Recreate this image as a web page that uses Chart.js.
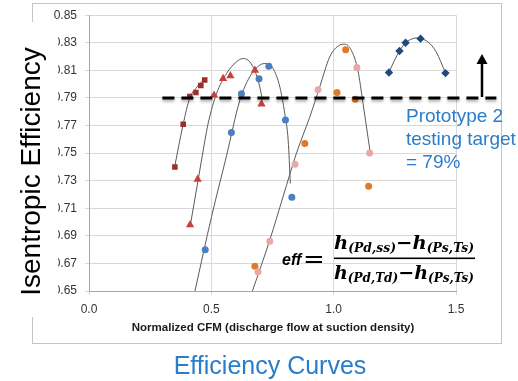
<!DOCTYPE html>
<html>
<head>
<meta charset="utf-8">
<script src="https://cdn.jsdelivr.net/npm/chart.js@4"></script>
<style>
  body { margin: 0; background: #fff; }
</style>
</head>
<body>
<canvas id="effChart" width="518" height="381"></canvas>
<script>
// tick values
var xTicks = [0, 0.5, 1.0, 1.5];
var yTicks = [0.65, 0.67, 0.69, 0.71, 0.73, 0.75, 0.77, 0.79, 0.81, 0.83, 0.85];

// measured points
var squareX = [0.351, 0.385, 0.412, 0.437, 0.457, 0.473];
var squareY = [0.740, 0.771, 0.791, 0.794, 0.799, 0.803];
var triangleX = [0.413, 0.444, 0.511, 0.548, 0.578, 0.678, 0.705];
var triangleY = [0.698, 0.731, 0.792, 0.804, 0.806, 0.810, 0.7855];
var blueX = [0.475, 0.582, 0.623, 0.695, 0.735, 0.803, 0.829];
var blueY = [0.680, 0.765, 0.793, 0.804, 0.813, 0.774, 0.718];
var orangeX = [0.678, 0.882, 1.014, 1.049, 1.088, 1.143];
var orangeY = [0.668, 0.757, 0.794, 0.825, 0.789, 0.726];
var pinkX = [0.691, 0.739, 0.842, 0.936, 1.095, 1.147];
var pinkY = [0.664, 0.686, 0.742, 0.796, 0.812, 0.750];
var navyX = [1.226, 1.269, 1.294, 1.355, 1.457];
var navyY = [0.8085, 0.824, 0.830, 0.833, 0.808];

// trendlines
var squareFitX = [0.350, 0.385, 0.412, 0.437, 0.473];
var squareFitY = [0.740, 0.771, 0.790, 0.797, 0.804];
var triangleFitX = [0.415, 0.446, 0.460, 0.487, 0.521, 0.562, 0.603, 0.630, 0.657, 0.682, 0.698, 0.709];
var triangleFitY = [0.6986, 0.7304, 0.745, 0.7715, 0.793, 0.8077, 0.8162, 0.8186, 0.8162, 0.8077, 0.798, 0.7884];
var blueFitX = [0.433, 0.501, 0.562, 0.616, 0.657, 0.698, 0.725, 0.752, 0.780, 0.800, 0.814, 0.823];
var blueFitY = [0.650, 0.704, 0.748, 0.788, 0.8053, 0.8138, 0.815, 0.8114, 0.798, 0.7788, 0.7594, 0.728];
var pinkFitX = [0.668, 0.739, 0.793, 0.848, 0.902, 0.943, 0.984, 1.024, 1.045, 1.072, 1.099, 1.120, 1.140, 1.150];
var pinkFitY = [0.650, 0.687, 0.7183, 0.750, 0.776, 0.798, 0.8198, 0.8283, 0.829, 0.8246, 0.810, 0.786, 0.7618, 0.750];
var navyFitX = [1.226, 1.249, 1.269, 1.294, 1.320, 1.340, 1.360, 1.385, 1.419, 1.457];
var navyFitY = [0.8085, 0.8174, 0.824, 0.830, 0.8328, 0.8335, 0.8328, 0.8307, 0.8234, 0.8082];

var target = 0.79;
var targetFrom = 0.3, targetTo = 1.665;

function pts(xs, ys) {
    return xs.map(function (x, i) { return { x: x, y: ys[i] }; });
}

function markers(xs, ys, color, style, r) {
    return {
        data: pts(xs, ys),
        pointStyle: style,
        pointRadius: r,
        backgroundColor: color,
        borderColor: color,
        borderWidth: 0,
        showLine: false,
        order: 1
    };
}

function fit(xs, ys) {
    return {
        data: pts(xs, ys),
        showLine: true,
        pointRadius: 0,
        borderColor: '#5a5a5a',
        borderWidth: 1,
        cubicInterpolationMode: 'monotone',
        order: 2
    };
}

var BLUE_TEXT = '#2a7dc9';
var SANS = '"Liberation Sans", Arial, sans-serif';
var SERIF = '"DejaVu Serif", "Liberation Serif", serif';

function drawMath(ctx, segs, x, base, width) {
    var total = 0;
    segs.forEach(function (s) { ctx.font = s.f; total += ctx.measureText(s.t).width; });
    ctx.save();
    ctx.translate(x, base);
    ctx.scale(width / total, 1);
    var cx = 0;
    segs.forEach(function (s) {
        ctx.font = s.f;
        ctx.fillText(s.t, cx, s.dy || 0);
        cx += ctx.measureText(s.t).width;
    });
    ctx.restore();
}

var decor = {
    id: 'decor',
    beforeDraw: function (chart) {
        var ctx = chart.ctx;
        ctx.save();
        ctx.fillStyle = '#fff';
        ctx.fillRect(0, 0, chart.width, chart.height);
        ctx.strokeStyle = '#c4c4c4';
        ctx.lineWidth = 1;
        ctx.strokeRect(32.5, 3.5, 469, 340);
        ctx.restore();
    },
    afterDraw: function (chart) {
        var ctx = chart.ctx;
        var xs = chart.scales.x, ys = chart.scales.y;
        ctx.save();

        // target line
        var ty = Math.round(ys.getPixelForValue(target));
        ctx.save();
        ctx.shadowColor = 'rgba(0,0,0,0.35)';
        ctx.shadowBlur = 3;
        ctx.shadowOffsetY = 2;
        ctx.strokeStyle = '#000';
        ctx.lineWidth = 3;
        ctx.setLineDash([12, 7]);
        ctx.beginPath();
        ctx.moveTo(xs.getPixelForValue(targetFrom), ty);
        ctx.lineTo(xs.getPixelForValue(targetTo), ty);
        ctx.stroke();
        ctx.restore();

        // arrow
        ctx.strokeStyle = '#000';
        ctx.fillStyle = '#000';
        ctx.lineWidth = 2.5;
        ctx.beginPath();
        ctx.moveTo(482, ty - 1);
        ctx.lineTo(482, 62);
        ctx.stroke();
        ctx.beginPath();
        ctx.moveTo(482, 54);
        ctx.lineTo(476.5, 64);
        ctx.lineTo(487.5, 64);
        ctx.closePath();
        ctx.fill();

        // note
        ctx.fillStyle = BLUE_TEXT;
        ctx.font = '19px ' + SANS;
        ctx.textBaseline = 'middle';
        ctx.textAlign = 'left';
        ctx.fillText('Prototype 2', 406, 117);
        ctx.fillText('testing target', 406, 140);
        ctx.fillText('= 79%', 406, 163);

        // formula
        ctx.fillStyle = '#000';
        ctx.textBaseline = 'alphabetic';
        ctx.font = 'bold italic 16px ' + SANS;
        ctx.fillText('eff', 282, 265);
        ctx.font = '26px ' + SERIF;
        ctx.fillText('=', 303, 268);
        var big = 'bold italic 19px ' + SERIF;
        var small = 'bold italic 12px ' + SERIF;
        drawMath(ctx, [
            { t: 'h', f: big }, { t: '(Pd,ss)', f: small, dy: 3 },
            { t: '\u2212', f: big }, { t: 'h', f: big }, { t: '(Ps,Ts)', f: small, dy: 3 }
        ], 334, 249, 140);
        ctx.fillRect(334, 257.5, 141, 1.6);
        drawMath(ctx, [
            { t: 'h', f: big }, { t: '(Pd,Td)', f: small, dy: 3 },
            { t: '\u2212', f: big }, { t: 'h', f: big }, { t: '(Ps,Ts)', f: small, dy: 3 }
        ], 334, 279, 140);

        // y title, its white box hides the leading digits
        ctx.fillStyle = '#fff';
        ctx.fillRect(8, 22, 50, 295);
        ctx.fillStyle = '#000';
        ctx.font = '28px ' + SANS;
        ctx.textAlign = 'center';
        ctx.translate(40, 171.5);
        ctx.rotate(-Math.PI / 2);
        ctx.fillText('Isentropic Efficiency', 0, 0);
        ctx.setTransform(1, 0, 0, 1, 0, 0);

        // x title + caption
        ctx.fillStyle = '#1a1a1a';
        ctx.font = 'bold 11.5px ' + SANS;
        ctx.textBaseline = 'middle';
        ctx.fillText('Normalized CFM (discharge flow at suction density)', 273, 328);
        ctx.fillStyle = BLUE_TEXT;
        ctx.font = '25px ' + SANS;
        ctx.fillText('Efficiency Curves', 270, 367);
        ctx.restore();
    }
};

var ctx = document.getElementById('effChart');
var chart = new Chart(ctx, {
    type: 'scatter',
    data: {
        datasets: [
            fit(squareFitX, squareFitY),
            fit(triangleFitX, triangleFitY),
            fit(blueFitX, blueFitY),
            fit(pinkFitX, pinkFitY),
            fit(navyFitX, navyFitY),
            markers(squareX, squareY, '#9b2d2b', 'rect', 3.9),
            markers(triangleX, triangleY, '#c8403c', 'triangle', 4.8),
            markers(blueX, blueY, '#4a7fc1', 'circle', 3.5),
            markers(pinkX, pinkY, '#e6a8a8', 'circle', 3.5),
            markers(orangeX, orangeY, '#e07a2a', 'circle', 3.5),
            markers(navyX, navyY, '#1f4a80', 'rectRot', 4.2)
        ]
    },
    options: {
        responsive: false,
        animation: false,
        devicePixelRatio: 1,
        layout: { padding: { left: 0, right: 62, top: 15, bottom: 40 } },
        plugins: {
            legend: { display: false },
            tooltip: { enabled: false }
        },
        scales: {
            x: {
                min: 0,
                max: 1.5,
                afterBuildTicks: function (s) { s.ticks = xTicks.map(function (v) { return { value: v }; }); },
                afterFit: function (s) { s.height = 50; },
                grid: { color: '#d9d9d9', tickLength: 4 },
                border: { color: '#a6a6a6' },
                ticks: {
                    padding: 7,
                    color: '#333',
                    font: { family: SANS, size: 12 },
                    maxRotation: 0,
                    callback: function (v) { return Number(v).toFixed(1); }
                }
            },
            y: {
                min: 0.65,
                max: 0.85,
                afterBuildTicks: function (s) { s.ticks = yTicks.map(function (v) { return { value: v }; }); },
                afterFit: function (s) { s.width = 89; },
                grid: { color: '#d9d9d9', tickLength: 4 },
                border: { color: '#a6a6a6' },
                ticks: {
                    padding: 8,
                    color: '#333',
                    font: { family: SANS, size: 12 },
                    callback: function (v) { return Number(v).toFixed(2); }
                }
            }
        }
    },
    plugins: [decor]
});
</script>
</body>
</html>
